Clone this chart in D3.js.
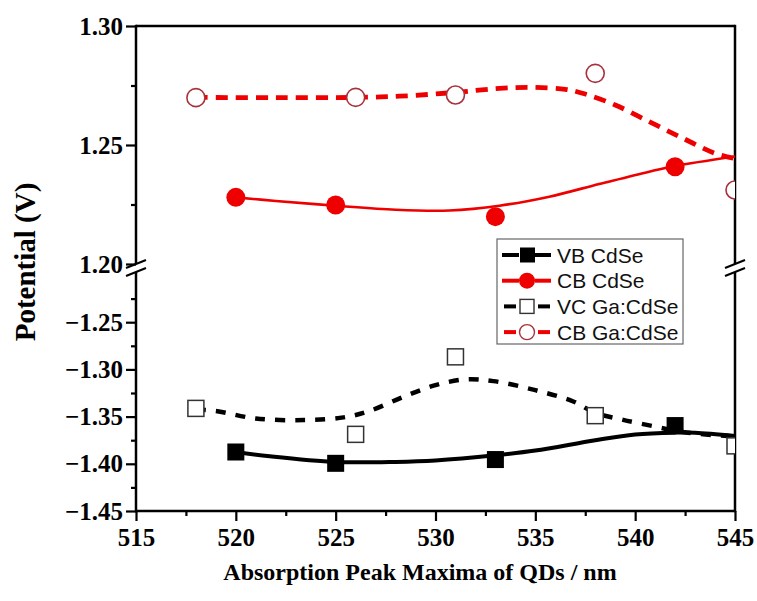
<!DOCTYPE html>
<html>
<head>
    <meta charset="utf-8">
    <title>Potential vs absorption peak</title>
    <style type="text/css">
        body { margin: 0; background: #fff; }
        svg text { font-family: "Liberation Serif", "Times New Roman", serif; font-weight: bold; }
        svg .legend text { font-family: "Liberation Sans", Arial, sans-serif; font-weight: normal; }
    </style>
</head>
<body>
<script src="https://d3js.org/d3.v7.min.js" type="text/javascript"></script>
<script type="text/javascript">

    // measured points
    var vbX = [520, 525, 533, 542];
    var vbY = [-1.3875, -1.3995, -1.3955, -1.3595];
    var cbX = [520, 525, 533, 542];
    var cbY = [1.228, 1.2248, 1.2199, 1.2409];
    var vcX = [518, 526, 531, 538, 545];
    var vcY = [-1.3413, -1.3688, -1.2867, -1.349, -1.381];
    var cbgX = [518, 526, 531, 538, 545];
    var cbgY = [1.2699, 1.2700, 1.2710, 1.2801, 1.2311];

    // fitted curves
    var vbFitX = [520, 521.7, 525, 528, 530, 533, 535, 538, 540, 542, 543, 545];
    var vbFitY = [-1.3875, -1.392, -1.398, -1.398, -1.3965, -1.391, -1.386, -1.375, -1.369, -1.367, -1.367, -1.3705];
    var vcFitX = [518, 519, 521, 523.4, 525.4, 526.7, 528.4, 530, 531.5, 532.9, 535, 536.9, 538, 539.4, 541.1, 542, 543, 545];
    var vcFitY = [-1.3425, -1.344, -1.352, -1.3537, -1.3508, -1.344, -1.329, -1.3167, -1.3106, -1.3124, -1.322, -1.334, -1.346, -1.3535, -1.361, -1.365, -1.368, -1.371];
    var cbFitX = [520, 522, 525, 528, 530.7, 533.2, 535.7, 538.2, 540.7, 542, 545];
    var cbFitY = [1.228, 1.2265, 1.2245, 1.2228, 1.2225, 1.2245, 1.2283, 1.2336, 1.2388, 1.2412, 1.2452];
    var cbgFitX = [518, 522, 526, 528.2, 531, 533.2, 534.9, 536.5, 537.5, 539, 540.7, 542.4, 544, 545];
    var cbgFitY = [1.270, 1.2699, 1.2700, 1.2705, 1.2721, 1.2738, 1.2742, 1.2734, 1.2714, 1.2668, 1.2598, 1.2528, 1.2465, 1.2443];

    var xTicks = [515, 520, 525, 530, 535, 540, 545];
    var yTopTicks = [1.20, 1.25, 1.30];
    var yBotTicks = [-1.45, -1.40, -1.35, -1.30, -1.25];
    var legendNames = ['VB CdSe', 'CB CdSe', 'VC Ga:CdSe', 'CB Ga:CdSe'];

    var red = '#ee0000', darkRed = '#a8323c';
    var pLeft = 136, pRight = 735, pTop = 26, pBottom = 511;

    var svg = d3.select('body').append('svg')
        .attr('width', 757)
        .attr('height', 601);

    var x = d3.scaleLinear().domain([515, 545]).range([pLeft, pRight]);
    var yTop = d3.scaleLinear().domain([1.20, 1.30]).range([264, pTop]);
    var yBot = d3.scaleLinear().domain([-1.45, -1.20]).range([pBottom, 275]);

    svg.append('clipPath').attr('id', 'clip')
        .append('rect').attr('x', pLeft).attr('y', pTop).attr('width', pRight - pLeft).attr('height', pBottom - pTop);

    // axes
    var xAxis = d3.axisBottom(x).tickValues(xTicks).tickSize(10).tickPadding(7).tickSizeOuter(0).tickFormat(d3.format('d'));
    var xMinor = d3.axisBottom(x).tickValues(d3.range(517.5, 545, 5)).tickSize(5).tickSizeOuter(0).tickFormat('');
    var yTopAxis = d3.axisLeft(yTop).tickValues(yTopTicks).tickSize(10).tickPadding(3).tickSizeOuter(0).tickFormat(d3.format('.2f'));
    var yTopMinor = d3.axisLeft(yTop).tickValues([1.225, 1.275]).tickSize(5).tickSizeOuter(0).tickFormat('');
    var yBotAxis = d3.axisLeft(yBot).tickValues(yBotTicks).tickSize(10).tickPadding(3).tickSizeOuter(0).tickFormat(d3.format('.2f'));
    var yBotMinor = d3.axisLeft(yBot).tickValues([-1.425, -1.375, -1.325, -1.275, -1.225]).tickSize(5).tickSizeOuter(0).tickFormat('');

    function place(axis, tx, ty) {
        var g = svg.append('g').attr('transform', 'translate(' + tx + ',' + ty + ')').call(axis);
        g.select('.domain').remove();
        g.selectAll('line').attr('stroke', '#000').attr('stroke-width', 2.2);
        g.selectAll('text').attr('font-size', 25).attr('fill', '#000')
            .style('font-family', '"Liberation Serif", "Times New Roman", serif').style('font-weight', 'bold');
        return g;
    }
    place(xAxis, 0, pBottom);
    place(xMinor, 0, pBottom);
    place(yTopAxis, pLeft, 0);
    place(yTopMinor, pLeft, 0);
    place(yBotAxis, pLeft, 0);
    place(yBotMinor, pLeft, 0);

    // frame with axis breaks
    var frame = svg.append('g').attr('stroke', '#000').attr('stroke-width', 2.5).attr('fill', 'none');
    frame.append('path').attr('d', 'M' + pLeft + ',' + pBottom + 'H' + pRight);
    frame.append('path').attr('d', 'M' + pLeft + ',' + pTop + 'H' + pRight);
    [pLeft, pRight].forEach(function (ax) {
        frame.append('path').attr('d', 'M' + ax + ',' + (pTop - 1.2) + 'V' + 264);
        frame.append('path').attr('d', 'M' + ax + ',' + 272 + 'V' + (pBottom + 1.2));
        [264, 272].forEach(function (by) {
            frame.append('line').attr('x1', ax - 10).attr('y1', by + 4).attr('x2', ax + 10).attr('y2', by - 4)
                .attr('stroke-width', 2);
        });
    });

    // curves
    var plot = svg.append('g').attr('clip-path', 'url(#clip)');
    function zip(xs, ys) { return xs.map(function (v, i) { return [v, ys[i]]; }); }
    var lineTop = d3.line().x(function (d) { return x(d[0]); }).y(function (d) { return yTop(d[1]); }).curve(d3.curveCatmullRom);
    var lineBot = d3.line().x(function (d) { return x(d[0]); }).y(function (d) { return yBot(d[1]); }).curve(d3.curveCatmullRom);

    plot.append('path').attr('d', lineBot(zip(vbFitX, vbFitY)))
        .attr('fill', 'none').attr('stroke', '#000').attr('stroke-width', 4);
    plot.append('path').attr('d', lineBot(zip(vcFitX, vcFitY)))
        .attr('fill', 'none').attr('stroke', '#000').attr('stroke-width', 4.5).attr('stroke-dasharray', '10,10');
    plot.append('path').attr('d', lineTop(zip(cbFitX, cbFitY)))
        .attr('fill', 'none').attr('stroke', red).attr('stroke-width', 2.6);
    plot.append('path').attr('d', lineTop(zip(cbgFitX, cbgFitY)))
        .attr('fill', 'none').attr('stroke', red).attr('stroke-width', 4.8).attr('stroke-dasharray', '12,8');

    // markers
    var sq = 17;
    plot.selectAll('.vb').data(zip(vbX, vbY)).enter().append('rect')
        .attr('x', function (d) { return x(d[0]) - sq / 2; }).attr('y', function (d) { return yBot(d[1]) - sq / 2; })
        .attr('width', sq).attr('height', sq).attr('fill', '#000');
    plot.selectAll('.vc').data(zip(vcX, vcY)).enter().append('rect')
        .attr('x', function (d) { return x(d[0]) - 8; }).attr('y', function (d) { return yBot(d[1]) - 8; })
        .attr('width', 16).attr('height', 16).attr('fill', '#fff').attr('stroke', '#333').attr('stroke-width', 1.5);
    plot.selectAll('.cb').data(zip(cbX, cbY)).enter().append('circle')
        .attr('cx', function (d) { return x(d[0]); }).attr('cy', function (d) { return yTop(d[1]); })
        .attr('r', 9.5).attr('fill', red);
    plot.selectAll('.cbg').data(zip(cbgX, cbgY)).enter().append('circle')
        .attr('cx', function (d) { return x(d[0]); }).attr('cy', function (d) { return yTop(d[1]); })
        .attr('r', 9).attr('fill', '#fff').attr('stroke', darkRed).attr('stroke-width', 1.6);

    // legend
    var lg = svg.append('g').attr('class', 'legend');
    lg.append('rect').attr('x', 497).attr('y', 239).attr('width', 186).attr('height', 105)
        .attr('fill', '#fff').attr('stroke', '#666').attr('stroke-width', 1.2);
    var lColors = ['#000', red, '#000', red];
    legendNames.forEach(function (name, i) {
        var cy = 255 + i * 25.7;
        var dashed = i >= 2;
        var g = lg.append('g');
        var segs = dashed ? [[504, 516], [538, 550]] : [[502, 519], [535, 551]];
        segs.forEach(function (s) {
            g.append('line').attr('x1', s[0]).attr('x2', s[1]).attr('y1', cy).attr('y2', cy)
                .attr('stroke', lColors[i]).attr('stroke-width', 4);
        });
        if (i === 0) g.append('rect').attr('x', 520).attr('y', cy - 7.5).attr('width', 15).attr('height', 15).attr('fill', '#000');
        if (i === 1) g.append('circle').attr('cx', 527).attr('cy', cy).attr('r', 8).attr('fill', red);
        if (i === 2) g.append('rect').attr('x', 520).attr('y', cy - 7).attr('width', 14).attr('height', 14)
            .attr('fill', '#fff').attr('stroke', '#333').attr('stroke-width', 1.4);
        if (i === 3) g.append('circle').attr('cx', 527).attr('cy', cy).attr('r', 7.5)
            .attr('fill', '#fff').attr('stroke', darkRed).attr('stroke-width', 1.4);
        g.append('text').attr('x', 557).attr('y', cy).attr('dy', '0.36em')
            .attr('font-size', 21).attr('fill', '#111').text(name);
    });

    // titles
    svg.append('text').attr('x', 420).attr('y', 580).attr('text-anchor', 'middle')
        .attr('font-size', 24).text('Absorption Peak Maxima of QDs / nm');
    svg.append('text').attr('transform', 'translate(35,262) rotate(-90)').attr('text-anchor', 'middle')
        .attr('font-size', 29).text('Potential (V)');

</script>
</body>
</html>
